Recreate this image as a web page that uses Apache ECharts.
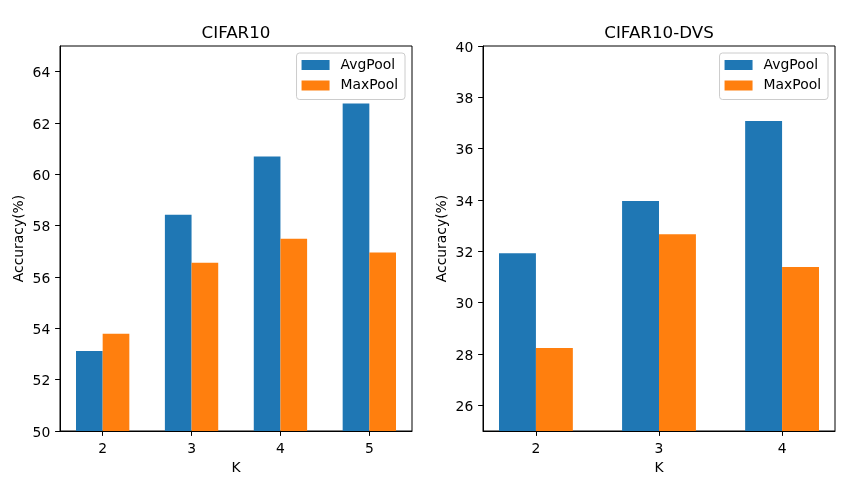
<!DOCTYPE html>
<html>
<head>
<meta charset="utf-8">
<script src="https://cdn.jsdelivr.net/npm/echarts@6/dist/echarts.min.js"></script>
<style>html,body{margin:0;padding:0;background:#fff}#c{width:860px;height:481px}</style>
</head>
<body>
<div id="c"></div>
<script>
const kLeft = [2, 3, 4, 5];
const avgLeft = [53.12, 58.43, 60.69, 62.76];
const maxLeft = [53.79, 56.56, 57.49, 56.95];
const kRight = [2, 3, 4];
const avgRight = [31.93, 33.96, 37.08];
const maxRight = [28.23, 32.67, 31.39];
const yTicksLeft = [50, 52, 54, 56, 58, 60, 62, 64];
const yTicksRight = [26, 28, 30, 32, 34, 36, 38, 40];
const titles = ['CIFAR10', 'CIFAR10-DVS'];
const seriesNames = ['AvgPool', 'MaxPool'];
const colors = ['#1f77b4', '#ff7f0e'];

const FONT = 'DejaVu Sans';
const barW = 0.3;
function xlim(ks) {
  const lo = ks[0] - barW, hi = ks[ks.length - 1] + barW;
  const m = (hi - lo) * 0.05;
  return [lo - m, hi + m];
}
const xl = xlim(kLeft), xr = xlim(kRight);

function xAxisCfg(idx, lim, ks) {
  return {
    type: 'value', gridIndex: idx, min: lim[0], max: lim[1],
    name: 'K', nameLocation: 'middle', nameGap: 27,
    nameTextStyle: {fontFamily: FONT, fontSize: 13.9, color: '#000'},
    axisLine: {show: true, lineStyle: {color: '#000', width: 1}},
    axisTick: {show: true, length: 4.9, lineStyle: {color: '#000'}, customValues: ks},
    axisLabel: {margin: 11.5, fontFamily: FONT, fontSize: 13.9, color: '#000', customValues: ks},
    splitLine: {show: false}
  };
}
function yAxisCfg(idx, mn, mx, ticks) {
  return {
    type: 'value', gridIndex: idx, min: mn, max: mx,
    name: 'Accuracy(%)', nameLocation: 'middle', nameGap: 34,
    nameTextStyle: {fontFamily: FONT, fontSize: 13.9, color: '#000'},
    axisLine: {show: true, lineStyle: {color: '#000', width: 1}},
    axisTick: {show: true, length: 4.9, lineStyle: {color: '#000'}, customValues: ticks},
    axisLabel: {margin: 9.7, fontFamily: FONT, fontSize: 13.9, color: '#000', customValues: ticks,
                formatter: v => '{a|' + v + '}',
                rich: {a: {fontFamily: FONT, fontSize: 13.9, color: '#000', padding: [4, 0, 0, 0]}}},
    splitLine: {show: false}
  };
}
function legendCfg(right) {
  return {
    orient: 'vertical', right: right, top: 53,
    data: seriesNames, icon: 'rect', itemWidth: 28, itemHeight: 10, itemGap: 6.5,
    padding: [5, 7, 7, 5],
    borderColor: '#cccccc', borderWidth: 1, borderRadius: 3,
    backgroundColor: 'rgba(255,255,255,0.8)',
    textStyle: {fontFamily: FONT, fontSize: 13.9, color: '#000', padding: [0, 0, 0, 6]}
  };
}
function bars(name, color, ks, vals, gi) {
  return {
    type: 'bar', name: name, xAxisIndex: gi, yAxisIndex: gi,
    data: ks.map((k, i) => [k, vals[i]]),
    barWidth: (barW * 100) + '%', barGap: '0%',
    itemStyle: {color: color}, emphasis: {disabled: true}
  };
}

const chart = echarts.init(document.getElementById('c'), null, {renderer: 'canvas'});
chart.setOption({
  animation: false,
  backgroundColor: '#fff',
  title: [
    {text: titles[0], left: 236, top: 25, textAlign: 'center', padding: 0,
     textStyle: {fontFamily: FONT, fontSize: 16.7, fontWeight: 'normal', color: '#000'}},
    {text: titles[1], left: 659, top: 25, textAlign: 'center', padding: 0,
     textStyle: {fontFamily: FONT, fontSize: 16.7, fontWeight: 'normal', color: '#000'}}
  ],
  legend: [legendCfg(455), legendCfg(32)],
  grid: [
    {left: 60, top: 46, width: 352, height: 385, show: true, borderColor: '#000', borderWidth: 1, backgroundColor: 'transparent'},
    {left: 483, top: 46, width: 352, height: 385, show: true, borderColor: '#000', borderWidth: 1, backgroundColor: 'transparent'}
  ],
  xAxis: [xAxisCfg(0, xl, kLeft), xAxisCfg(1, xr, kRight)],
  yAxis: [yAxisCfg(0, 50, 65, yTicksLeft), yAxisCfg(1, 25, 40, yTicksRight)],
  series: [
    bars(seriesNames[0], colors[0], kLeft, avgLeft, 0),
    bars(seriesNames[1], colors[1], kLeft, maxLeft, 0),
    bars(seriesNames[0], colors[0], kRight, avgRight, 1),
    bars(seriesNames[1], colors[1], kRight, maxRight, 1)
  ]
});
</script>
</body>
</html>
